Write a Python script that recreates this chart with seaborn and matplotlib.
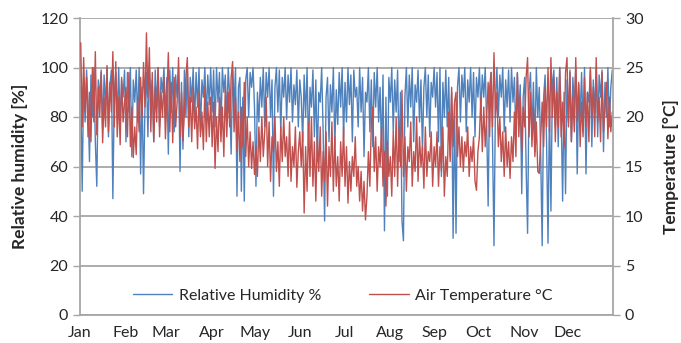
import numpy as np
import pandas as pd
import matplotlib
matplotlib.use("Agg")
import matplotlib.pyplot as plt
import seaborn as sns

months = ["Jan", "Feb", "Mar", "Apr", "May", "Jun", "Jul", "Aug", "Sep", "Oct", "Nov", "Dec"]
month_days = [31, 28, 31, 30, 31, 30, 31, 31, 30, 31, 30, 31]

rh_jan = [92, 50, 96, 78, 99, 85, 62, 97, 80, 100, 70, 52, 95, 88, 99, 75, 97, 84, 100, 72, 93, 99, 47, 90, 98, 80, 100, 76, 95, 88, 99]
rh_feb = [70, 98, 82, 100, 64, 95, 86, 99, 78, 100, 57, 92, 49, 85, 98, 72, 100, 88, 95, 70, 99, 84, 100, 76, 96, 90, 100, 80]
rh_mar = [96, 65, 99, 82, 100, 74, 97, 88, 100, 58, 94, 67, 99, 80, 100, 72, 96, 86, 100, 78, 98, 84, 100, 74, 95, 88, 100, 79, 97, 85, 100]
rh_apr = [82, 99, 76, 100, 86, 98, 74, 100, 90, 97, 78, 100, 88, 65, 99, 84, 100, 48, 92, 96, 50, 88, 46, 95, 100, 80, 98, 92, 100, 84]
rh_may = [52, 90, 78, 96, 84, 100, 76, 98, 88, 100, 80, 95, 48, 92, 100, 82, 99, 74, 96, 88, 100, 79, 97, 86, 100, 78, 93, 85, 99, 76, 95]
rh_jun = [88, 70, 97, 80, 100, 66, 92, 84, 99, 72, 95, 62, 90, 86, 100, 74, 38, 88, 96, 70, 93, 82, 100, 68, 91, 77, 98, 84, 100, 72]
rh_jul = [94, 78, 100, 85, 97, 70, 99, 88, 92, 76, 100, 82, 96, 64, 90, 86, 100, 74, 95, 68, 98, 84, 100, 78, 92, 66, 97, 34, 88, 48, 96]
rh_aug = [86, 100, 74, 95, 82, 99, 62, 90, 38, 30, 88, 100, 76, 97, 84, 100, 70, 93, 86, 99, 78, 95, 66, 92, 100, 80, 97, 72, 94, 88, 100]
rh_sep = [84, 98, 70, 100, 56, 94, 80, 99, 76, 96, 64, 90, 31, 85, 33, 92, 100, 78, 97, 88, 100, 74, 95, 86, 100, 80, 98, 72, 96, 88]
rh_oct = [100, 82, 97, 88, 100, 76, 44, 92, 98, 70, 28, 86, 100, 80, 97, 88, 100, 74, 95, 84, 99, 78, 100, 86, 96, 72, 98, 82, 93, 49, 88]
rh_nov = [96, 60, 33, 90, 98, 72, 94, 66, 100, 80, 92, 64, 28, 88, 97, 70, 29, 85, 42, 94, 99, 76, 96, 68, 100, 82, 46, 90, 49, 95]
rh_dec = [78, 99, 70, 96, 84, 100, 57, 93, 80, 98, 74, 100, 57, 90, 86, 99, 68, 95, 82, 100, 72, 97, 88, 99, 66, 94, 80, 100, 76, 92, 99]

t_jan = [27.5, 19.0, 26.0, 20.5, 24.0, 18.0, 22.5, 17.5, 25.0, 19.5, 26.6, 18.2, 23.0, 20.0, 24.5, 17.4, 22.0, 19.0, 25.2, 18.5, 23.5, 20.5, 26.6, 19.0, 25.6, 18.0, 22.0, 17.2, 24.0, 19.5, 21.5]
t_feb = [23.0, 18.0, 24.5, 17.0, 21.0, 15.9, 19.0, 16.2, 22.0, 18.5, 24.0, 20.0, 25.5, 21.0, 28.5, 22.0, 27.0, 18.5, 24.5, 17.5, 23.0, 19.5, 25.0, 18.0, 22.5, 20.0, 24.0, 17.8]
t_mar = [22.0, 26.5, 18.5, 23.5, 17.4, 24.0, 19.0, 21.5, 26.0, 18.0, 22.5, 17.6, 20.5, 24.0, 26.0, 19.0, 22.0, 17.5, 23.0, 18.8, 21.0, 16.8, 22.5, 18.0, 20.5, 16.7, 23.0, 17.5, 21.5, 18.0, 22.0]
t_apr = [17.0, 21.5, 14.8, 20.0, 16.5, 22.0, 17.5, 21.0, 16.0, 23.0, 18.0, 22.5, 19.0, 24.0, 25.6, 18.5, 22.0, 16.5, 20.5, 15.5, 21.0, 17.0, 23.5, 16.0, 20.0, 15.0, 18.5, 14.8, 17.5, 14.2]
t_may = [17.0, 14.0, 19.0, 15.5, 20.0, 16.0, 18.5, 22.0, 15.0, 19.5, 13.5, 18.0, 16.5, 20.0, 14.5, 17.5, 13.0, 19.0, 15.5, 20.0, 16.0, 18.0, 14.0, 19.5, 13.5, 17.0, 15.0, 19.0, 12.9, 16.5, 18.5]
t_jun = [15.0, 18.5, 10.3, 17.0, 12.5, 19.5, 14.0, 20.0, 13.0, 17.5, 11.5, 18.0, 14.5, 19.0, 12.0, 16.5, 13.5, 18.5, 11.0, 17.0, 14.0, 19.5, 12.5, 18.0, 13.0, 16.0, 11.5, 17.5, 14.0, 19.0]
t_jul = [13.0, 17.0, 11.3, 15.5, 12.5, 16.0, 14.0, 18.0, 13.0, 15.0, 11.5, 14.5, 10.5, 13.5, 9.6, 12.0, 16.5, 13.0, 19.5, 21.0, 14.5, 18.0, 12.5, 17.0, 15.0, 19.0, 13.0, 16.5, 11.0, 17.5, 14.0]
t_aug = [16.0, 12.0, 18.5, 14.0, 20.0, 13.0, 19.0, 15.0, 22.7, 14.0, 18.0, 12.5, 17.0, 15.5, 19.5, 13.0, 16.5, 14.5, 20.0, 13.5, 18.0, 15.0, 17.0, 12.8, 19.0, 14.0, 16.5, 15.5, 18.5, 13.0, 17.0]
t_sep = [15.0, 18.5, 13.0, 17.0, 14.5, 19.0, 12.0, 16.0, 14.0, 20.5, 15.5, 23.0, 17.0, 21.5, 22.5, 16.0, 19.0, 15.0, 18.0, 14.5, 17.5, 16.0, 19.0, 14.0, 17.0, 15.5, 18.0, 13.5, 12.6, 16.5]
t_oct = [18.0, 22.0, 16.5, 21.0, 17.0, 20.0, 23.5, 18.0, 24.5, 19.0, 26.5, 20.0, 22.5, 17.0, 20.0, 15.5, 18.5, 14.0, 19.0, 15.0, 17.5, 13.8, 18.0, 15.5, 20.5, 16.0, 24.4, 18.0, 22.0, 16.5, 21.0]
t_nov = [19.0, 24.0, 26.0, 18.0, 22.5, 17.0, 21.0, 16.0, 19.5, 14.5, 14.3, 18.0, 21.5, 17.0, 23.0, 19.0, 25.0, 18.5, 26.0, 20.0, 24.0, 17.5, 22.5, 19.0, 25.0, 18.0, 21.5, 17.0, 24.5, 26.0]
t_dec = [19.0, 24.5, 17.5, 22.0, 18.5, 26.0, 19.5, 23.5, 17.0, 21.5, 18.0, 24.0, 19.0, 22.5, 17.5, 25.0, 20.0, 23.0, 18.0, 26.0, 19.5, 22.0, 17.5, 24.5, 18.5, 21.0, 23.5, 17.8, 22.0, 18.5, 20.5]

rh = rh_jan + rh_feb + rh_mar + rh_apr + rh_may + rh_jun + rh_jul + rh_aug + rh_sep + rh_oct + rh_nov + rh_dec
temp = t_jan + t_feb + t_mar + t_apr + t_may + t_jun + t_jul + t_aug + t_sep + t_oct + t_nov + t_dec
day = np.arange(len(rh)) + 0.5

df = pd.DataFrame({"day": day, "rh": rh, "temp": temp})

sns.set_style("white")
plt.rcParams["font.family"] = ["Lato", "DejaVu Sans"]

BLUE = "#4F81BD"
RED = "#C0504D"
GRID = "#A6A6A6"
TXT = "#262626"

fig = plt.figure(figsize=(6.81, 3.43), dpi=100)
ax = fig.add_axes([80/681, 28/343, 533/681, 297/343])
ax2 = ax.twinx()

sns.lineplot(data=df, x="day", y="rh", ax=ax, color=BLUE, lw=1.0, label="Relative Humidity %", legend=False)
sns.lineplot(data=df, x="day", y="temp", ax=ax2, color=RED, lw=1.0, label="Air Temperature °C", legend=False)

ax.set_xlim(0, 365)
ax.set_ylim(0, 120)
ax2.set_ylim(0, 30)
ax.set_yticks(np.arange(0, 121, 20))
ax2.set_yticks(np.arange(0, 31, 5))
starts = np.cumsum([0] + month_days)
ax.set_xticks(starts)
ax.set_xticklabels(months + [""])

ax.yaxis.grid(True, color=GRID, lw=1.3)
ax.set_axisbelow(True)
for a in (ax, ax2):
    for s in a.spines.values():
        s.set_visible(False)
    a.tick_params(colors=GRID, labelcolor=TXT, labelsize=11.5, length=5, width=1)
ax.tick_params(axis="x", pad=3)
ax.spines["left"].set_visible(True)
ax.spines["left"].set_color(GRID)
ax.spines["bottom"].set_visible(True)
ax.spines["bottom"].set_color(GRID)
ax2.spines["right"].set_visible(True)
ax2.spines["right"].set_color(GRID)
ax.spines["left"].set_linewidth(1.3)
ax.spines["bottom"].set_linewidth(1.3)
ax2.spines["right"].set_linewidth(1.3)

ax.set_xlabel("")
ax.set_ylabel("Relative humidity [%]", fontsize=12.5, fontweight="bold", color=TXT, labelpad=9)
ax2.set_ylabel("Temperature [°C]", fontsize=12.5, fontweight="bold", color=TXT, labelpad=14)

h1, l1 = ax.get_legend_handles_labels()
h2, l2 = ax2.get_legend_handles_labels()
leg = ax2.legend(h1 + h2, l1 + l2, loc="center", bbox_to_anchor=(0.493, 0.064), ncol=2,
                 frameon=False, fontsize=11.5, handlelength=2.5, columnspacing=3.0, handletextpad=0.4)
for t in leg.get_texts():
    t.set_color(TXT)

fig.savefig("out.png", dpi=100)
